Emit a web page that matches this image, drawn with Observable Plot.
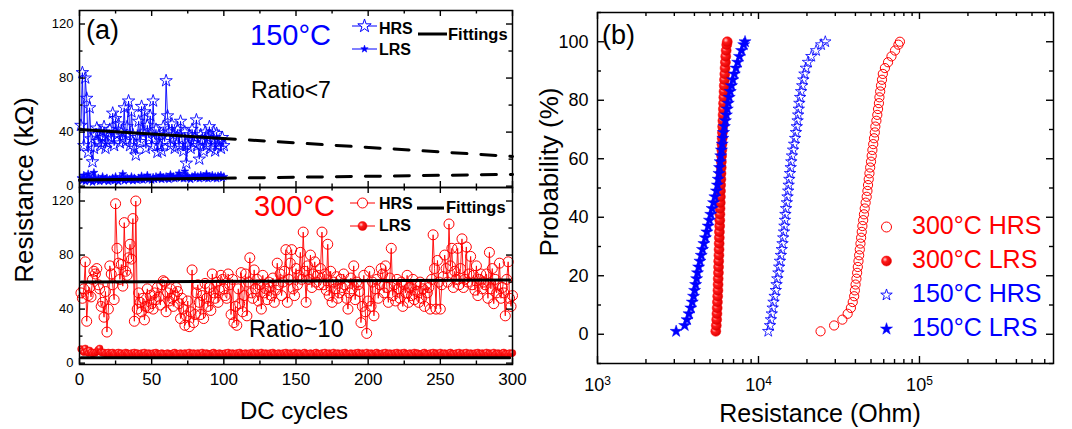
<!DOCTYPE html>
<html><head><meta charset="utf-8">
<script src="https://cdn.jsdelivr.net/npm/d3@7"></script>
<script src="https://cdn.jsdelivr.net/npm/@observablehq/plot@0.6"></script>
<style>
body{margin:0;background:#fff;}
#wrap{position:relative;width:1072px;height:429px;overflow:hidden;background:#fff;}
#wrap > svg{position:absolute;overflow:visible;}
</style></head><body><div id="wrap"></div>
<script>
// ---------------- DATA ----------------
// (a) 150 °C, cycles 1..100 (kOhm)
const hrs150 = [45,84,30,80,65,25,58,35,18,28, 38,43,33,40,30,36,44,28,32,37, 42,35,54,30,50,38,46,32,40,35,
  58,33,44,63,30,55,38,28,23,36, 48,33,59,40,55,28,45,36,52,30, 63,35,42,25,38,30,26,44,33,78,
  52,40,30,46,38,28,36,42,30,48, 35,26,40,17,30,38,28,42,32,36, 49,30,20,38,34,26,40,30,36,44,
  28,35,40,26,39,30,33,28,36,30];
const lrs150 = [6,4,8,3.5,5,9,4,6,3,10, 5,4,6,3.5,5,7,4,5,6,3.5, 5,4.5,6,4,7,5,3.5,6,5,9,
  4,5.5,6,4.5,5,7,4,6,5,4.5, 6,5,7.5,4.5,6,5.5,8,5,6,4.5, 6.5,5,7,5.5,6,8,5,6.5,5.5,7,
  6,5,8.5,6,7,5.5,6.5,7,9.5,6, 7,5.5,11,6,7.5,6,5,7,6.5,8, 6,7,5.5,8,6.5,7,6,9,5.5,7,
  6.5,8,6,7,5.5,7.5,6.5,8,6,7];
// fittings 150 °C : solid over measured range, dashed extrapolation
const fitCycles150 = [0, 108, 300];
const fitHrs150 = [42, 34.8, 22];
const fitLrs150 = [4.5, 6.0, 8.7];

// (a) 300 °C, cycles 1..300 (kOhm)
const hrs300 = [52,48,55,75,31,50,56,49,62,68,66,70,58,55,42,45,34,53,23,40,
  72,66,58,47,118,85,74,62,73,57,104,68,65,78,88,77,107,31,120,40,
  52,45,38,48,32,42,55,41,50,44,40,52,47,56,49,43,58,61,60,38,
  52,46,55,48,42,50,56,53,44,33,48,40,28,35,46,27,38,69,30,36,
  52,58,45,36,50,33,59,48,42,56,39,66,52,48,60,45,54,65,62,55,
  50,48,66,58,36,62,30,42,28,55,44,67,38,50,66,35,60,78,52,48,
  69,55,62,46,58,40,65,52,55,47,60,56,50,63,45,54,74,58,66,50,
  60,68,84,45,62,74,84,55,50,70,58,65,82,62,97,68,45,72,62,80,
  56,66,75,60,65,58,70,97,58,66,54,88,50,68,45,60,55,64,48,52,
  62,56,66,58,48,40,52,63,55,72,47,60,58,53,30,42,65,38,22,46,
  68,42,60,35,55,62,48,58,70,66,52,72,56,45,63,85,50,58,46,62,
  55,48,60,42,58,52,65,45,56,50,62,47,58,53,45,60,48,55,42,58,
  52,56,40,62,95,70,40,76,60,40,58,64,80,70,60,103,72,85,56,68,
  62,85,58,70,92,56,62,86,60,66,79,58,65,54,72,50,62,66,55,60,
  58,66,48,82,55,70,44,62,52,58,74,48,56,52,35,62,75,48,42,50];
const lrs300 = [10.5,9,8,11,8.5,7.5,9.5,8,7,8,7.5,8.5,10,11,8,7.5,8,7,7.5,8,
  7,7.5,8,7,6.5,7.5,8,7,7.5,6.5,7,8,7.5,7,6.5,7.5,7,8,7,7.5,
  6.5,7,7.5,7,8,6.5,7,7.5,7,6.5,7.5,7,8,7,6.5,7,7.5,7,6.5,7,
  7.5,7,6.5,7,7.5,8,7,6.5,7,7.5,7,6.5,7.5,7,7,8,6.5,7,7.5,7,
  6.5,7.5,7,7,8,6.5,7,7.5,7,6.5,7,7.5,8,7,6.5,7,7.5,7,7,6.5,
  7.5,7,8,6.5,7,7.5,7,6.5,7.5,7,8,7,6.5,7,7.5,7,6.5,7.5,7,8,
  7,6.5,7.5,7,7,8,6.5,7,7.5,7,6.5,7.5,7,8,7,6.5,7,7.5,7,6.5,
  7.5,7,8,7,6.5,7.5,7,7,8,6.5,7,7.5,7,6.5,7.5,8,7,6.5,7,7.5,
  7,6.5,7.5,8,7,7,6.5,7.5,7,8,6.5,7,7.5,7,7,8,6.5,7,7.5,7,
  6.5,7.5,7,8,7,6.5,7,7.5,7,6.5,7.5,7,8,7,6.5,7.5,7,7,8,6.5,
  7,7.5,7,6.5,7.5,8,7,6.5,7,7.5,7,8,6.5,7,7.5,7,6.5,7.5,7,8,
  7,6.5,7.5,7,8,7,6.5,7,7.5,7,6.5,8,7,7.5,7,6.5,7,7.5,8,7,
  6.5,7,7.5,7,8,6.5,7.5,7,7,8,6.5,7,7.5,7,6.5,7.5,8,7,7,6.5,
  7.5,7,8,6.5,7,7.5,7,8,6.5,7,7.5,7,6.5,7.5,7,8,7,6.5,7.5,7,
  7,8,6.5,7.5,7,7,8,6.5,7,7.5,7,6.5,7.5,8,7,7,6.5,7.5,7,7.5];
const fitCycles300 = [1, 298];
const fitHrs300 = [60, 61.5];
const fitLrs300 = [4, 4];

// (b) cumulative probability (%) and resistance (Ohm)
const probLevels = [1,3,5,7,9,11,13,15,17,19,21,23,25,27,29,31,33,35,37,39,41,43,45,47,49,
  51,53,55,57,59,61,63,65,67,69,71,73,75,77,79,81,83,85,87,89,91,93,95,97,99,100];
const rHrs300 = [24300,29500,33200,35800,37500,38500,39300,39700,40100,40600,41000,41400,41800,42200,42600,
  43000,43400,43800,44200,44700,45200,45700,46300,47000,47500,47900,48400,48900,49400,50000,50500,51000,
  51600,52200,52800,53200,54000,54700,55300,56000,56400,57000,57700,58500,59200,61000,63800,67000,70500,74000,75600];
const rLrs300 = [5430,5470,5500,5520,5540,5560,5580,5600,5610,5620,5640,5650,5660,5680,5690,5700,5710,5720,
  5740,5750,5760,5770,5790,5800,5810,5820,5840,5850,5870,5880,5900,5920,5930,5950,5970,5990,6010,6030,6050,
  6070,6090,6110,6130,6150,6180,6200,6230,6260,6300,6350,6400];
const rHrs150 = [11500,11800,11950,12100,12250,12400,12600,12800,12950,13100,13300,13450,13600,13780,13950,
  14100,14250,14400,14500,14600,14700,14850,15000,15150,15300,15400,15550,15700,15850,16000,16150,16400,
  16650,16900,17100,17300,17500,17650,17800,17950,18150,18400,18700,19000,19300,19700,20300,21300,22800,24500,26000];
const rLrs150 = [3080,3480,3600,3700,3800,3880,3950,4010,4070,4130,4180,4250,4330,4410,4490,4580,4680,4780,
  4870,4960,5050,5150,5260,5360,5480,5560,5620,5680,5730,5780,5830,5890,5950,6010,6070,6140,6230,6320,6400,
  6490,6580,6680,6800,6930,7080,7250,7430,7620,7850,8100,8250];

// ticks
const xMajorA = [0,50,100,150,200,250,300];
const xMinorA = [25,75,125,175,225,275];
const yMajorA = [0,40,80,120];
const yMinorA = [20,60,100];
const xMajorB = [1000,10000,100000];
const xMinorB = [2000,3000,4000,5000,6000,7000,8000,9000,20000,30000,40000,50000,60000,70000,80000,90000,
  200000,300000,400000,500000,600000];
const yMajorB = [0,20,40,60,80,100];
const yMinorB = [-10,10,30,50,70,90,110];

// ---------------- STYLE ----------------
const FONT = "Liberation Sans, Arial, Helvetica, sans-serif";
const BLUE = "#0000ff", RED = "#ff0000";
const wrap = document.getElementById("wrap");
const baseStyle = {background: "transparent", overflow: "visible", fontFamily: FONT, color: "#000"};

function frameTicks(xMaj, xMin, yMaj, yMin, iw, ih, maj = 6, mn = 3.5) {
  const o = {stroke: "#000", strokeWidth: 1.4};
  return [
    Plot.tickX(xMaj, {x: d => d, insetTop: ih - maj, ...o}),
    Plot.tickX(xMaj, {x: d => d, insetBottom: ih - maj, ...o}),
    Plot.tickX(xMin, {x: d => d, insetTop: ih - mn, ...o}),
    Plot.tickX(xMin, {x: d => d, insetBottom: ih - mn, ...o}),
    Plot.tickY(yMaj, {y: d => d, insetRight: iw - maj, ...o}),
    Plot.tickY(yMaj, {y: d => d, insetLeft: iw - maj, ...o}),
    Plot.tickY(yMin, {y: d => d, insetRight: iw - mn, ...o}),
    Plot.tickY(yMin, {y: d => d, insetLeft: iw - mn, ...o})
  ];
}
function place(svg, left, top) {
  svg.style.position = "absolute";
  svg.style.left = left + "px";
  svg.style.top = top + "px";
  wrap.appendChild(svg);
  return svg;
}

// ---------------- PANEL (a) ----------------
const aLeft = 79, aRight = 512, aW = 540;
const iwA = aRight - aLeft, ihA = 177;
const cyc = (d, i) => i + 1;

const plotATop = Plot.plot({
  width: aW, height: 190,
  marginLeft: aLeft, marginRight: aW - aRight, marginTop: 10, marginBottom: 3,
  x: {domain: [0, 300], axis: null},
  y: {domain: [-1, 130]},
  style: baseStyle,
  marks: [
    Plot.line(hrs150, {x: cyc, y: d => d, stroke: BLUE, strokeWidth: 0.9}),
    Plot.dot(hrs150, {x: cyc, y: d => d, symbol: "star", r: 3.9, stroke: BLUE, strokeWidth: 0.9, fill: "none"}),
    Plot.line(lrs150, {x: cyc, y: d => d, stroke: BLUE, strokeWidth: 1}),
    Plot.dot(lrs150, {x: cyc, y: d => d, symbol: "star", r: 2.5, fill: BLUE, stroke: BLUE, strokeWidth: 0.6}),
    Plot.line(fitCycles150.slice(0, 2), {x: d => d, y: (d, i) => fitHrs150[i], stroke: "#000", strokeWidth: 3}),
    Plot.line(fitCycles150.slice(1), {x: d => d, y: (d, i) => fitHrs150[i + 1], stroke: "#000", strokeWidth: 3, strokeDasharray: "15,14", strokeDashoffset: 15}),
    Plot.line(fitCycles150.slice(0, 2), {x: d => d, y: (d, i) => fitLrs150[i], stroke: "#000", strokeWidth: 3}),
    Plot.line(fitCycles150.slice(1), {x: d => d, y: (d, i) => fitLrs150[i + 1], stroke: "#000", strokeWidth: 3, strokeDasharray: "15,14", strokeDashoffset: 15}),
    ...frameTicks(xMajorA, xMinorA, yMajorA, yMinorA, iwA, ihA),
    Plot.frame({stroke: "#000", strokeWidth: 1.5}),
    Plot.axisY(yMajorA, {tickSize: 0, tickPadding: 6, fontSize: 13, label: null})
  ]
});
place(plotATop, 0, 0);

const plotABot = Plot.plot({
  width: aW, height: 249,
  marginLeft: aLeft, marginRight: aW - aRight, marginTop: 7, marginBottom: 65,
  x: {domain: [0, 300]},
  y: {domain: [-1, 130]},
  style: baseStyle,
  marks: [
    Plot.line(hrs300, {x: cyc, y: d => d, stroke: RED, strokeWidth: 0.9}),
    Plot.dot(hrs300, {x: cyc, y: d => d, r: 5, stroke: RED, strokeWidth: 1, fill: "none"}),
    Plot.line(lrs300, {x: cyc, y: d => d, stroke: RED, strokeWidth: 0.9}),
    Plot.dot(lrs300, {x: cyc, y: d => d, r: 3.4, fill: "url(#ballGrad)", stroke: RED, strokeWidth: 0.4}),
    Plot.line(fitCycles300, {x: d => d, y: (d, i) => fitHrs300[i], stroke: "#000", strokeWidth: 3}),
    Plot.line(fitCycles300, {x: d => d, y: (d, i) => fitLrs300[i], stroke: "#000", strokeWidth: 3}),
    ...frameTicks(xMajorA, xMinorA, yMajorA, yMinorA, iwA, ihA),
    Plot.frame({stroke: "#000", strokeWidth: 1.5}),
    Plot.axisY(yMajorA, {tickSize: 0, tickPadding: 6, fontSize: 13, label: null}),
    Plot.axisX(xMajorA, {tickSize: 0, tickPadding: 8, fontSize: 17, label: null})
  ]
});
place(plotABot, 0, 180);

// ---------------- PANEL (b) ----------------
const bW = 532, bLeft = 57, bRight = 19;
const iwB = bW - bLeft - bRight, ihB = 351;
const expOf = {1000: "3", 10000: "4", 100000: "5"};
const plotB = Plot.plot({
  width: bW, height: 429,
  marginLeft: bLeft, marginRight: bRight, marginTop: 12, marginBottom: 66,
  x: {type: "log", domain: [1000, 680000]},
  y: {domain: [-10, 110]},
  style: baseStyle,
  marks: [
    Plot.dot(probLevels, {x: (d, i) => rHrs300[i], y: d => d, r: 4.6, stroke: RED, strokeWidth: 1, fill: "none"}),
    Plot.dot(probLevels, {x: (d, i) => rLrs300[i], y: d => d, r: 5, fill: "url(#ballGrad)", stroke: RED, strokeWidth: 0.5}),
    Plot.dot(probLevels, {x: (d, i) => rHrs150[i], y: d => d, symbol: "star", r: 3.6, stroke: BLUE, strokeWidth: 0.8, fill: "none"}),
    Plot.dot(probLevels, {x: (d, i) => rLrs150[i], y: d => d, symbol: "star", r: 3.8, fill: BLUE, stroke: BLUE, strokeWidth: 0.5}),
    ...frameTicks(xMajorB, xMinorB, yMajorB, yMinorB, iwB, ihB, 7, 4),
    Plot.frame({stroke: "#000", strokeWidth: 1.5}),
    Plot.axisY(yMajorB, {tickSize: 0, tickPadding: 9, fontSize: 18, label: null}),
    Plot.axisX(xMajorB, {tickSize: 0, tickPadding: 15, fontSize: 18, label: null, tickFormat: d => "10|" + expOf[d]})
  ]
});
place(plotB, 540, 0);
// superscript exponents on the decade labels
d3.select(plotB).selectAll('g[aria-label="x-axis tick label"] text').each(function () {
  const t = d3.select(this);
  const parts = t.text().split("|");
  t.text(parts[0]);
  t.append("tspan").attr("dy", "-0.5em").attr("font-size", "12px").text(parts[1]);
});

// ---------------- ANNOTATIONS ----------------
const ov = d3.create("svg").attr("width", 1072).attr("height", 429)
  .attr("font-family", FONT).style("left", "0px").style("top", "0px").style("pointer-events", "none");
const grad = ov.append("defs").append("radialGradient").attr("id", "ballGrad")
  .attr("cx", "35%").attr("cy", "35%").attr("r", "70%");
grad.append("stop").attr("offset", "0%").attr("stop-color", "#ffd0d0");
grad.append("stop").attr("offset", "35%").attr("stop-color", "#ff1a1a");
grad.append("stop").attr("offset", "100%").attr("stop-color", "#d80000");

function txt(s, x, y, o = {}) {
  const t = ov.append("text").attr("x", x).attr("y", y)
    .attr("font-size", o.size || 16).attr("fill", o.fill || "#000")
    .attr("font-weight", o.weight || "normal").attr("text-anchor", o.anchor || "start").text(s);
  if (o.rotate) t.attr("transform", `rotate(${o.rotate},${x},${y})`);
  return t;
}
function seg(x1, x2, y, color, w) {
  ov.append("line").attr("x1", x1).attr("x2", x2).attr("y1", y).attr("y2", y)
    .attr("stroke", color).attr("stroke-width", w);
}
function sym(type, x, y, r, fill, stroke, sw) {
  ov.append("path").attr("transform", `translate(${x},${y})`)
    .attr("d", d3.symbol(type, Math.PI * r * r)())
    .attr("fill", fill).attr("stroke", stroke).attr("stroke-width", sw);
}

// axis titles
txt("Resistance (kΩ)", 33, 190, {size: 26, anchor: "middle", rotate: -90});
txt("DC cycles", 294, 419, {size: 24, anchor: "middle"});
txt("Probability (%)", 558, 172, {size: 26, anchor: "middle", rotate: -90});
txt("Resistance (Ohm)", 820, 421.5, {size: 25, anchor: "middle"});

// panel (a) top
txt("(a)", 86, 39, {size: 27});
txt("150°C", 250, 45, {size: 29, fill: BLUE});
txt("Ratio<7", 251, 98, {size: 23});
seg(352, 377, 26, BLUE, 1); sym(d3.symbolStar, 364.5, 26, 4.2, "#fff", BLUE, 1);
txt("HRS", 379, 33.5, {size: 16, weight: "bold"});
seg(352, 377, 49, BLUE, 1); sym(d3.symbolStar, 364.5, 49, 2.3, BLUE, BLUE, 0.6);
txt("LRS", 379, 55, {size: 16, weight: "bold"});
seg(418, 447, 34, "#000", 3);
txt("Fittings", 448, 40, {size: 16.5, weight: "bold"});

// panel (a) bottom
txt("300°C", 254, 216, {size: 29, fill: RED});
txt("Ratio~10", 249, 336.5, {size: 23.5});
seg(350, 375, 203, RED, 1); sym(d3.symbolCircle, 362.5, 203, 5, "#fff", RED, 1);
txt("HRS", 379, 208.5, {size: 16, weight: "bold"});
seg(350, 375, 226, RED, 1); sym(d3.symbolCircle, 362.5, 226, 4.5, "url(#ballGrad)", RED, 0.5);
txt("LRS", 379, 230.5, {size: 16, weight: "bold"});
seg(417, 444, 208, "#000", 3);
txt("Fittings", 446, 213, {size: 16.5, weight: "bold"});

// panel (b)
txt("(b)", 602, 44, {size: 27});
const legB = [
  ["300°C HRS", RED, d3.symbolCircle, 5, "none", 1],
  ["300°C LRS", RED, d3.symbolCircle, 5, "url(#ballGrad)", 0.5],
  ["150°C HRS", BLUE, d3.symbolStar, 3.6, "none", 0.9],
  ["150°C LRS", BLUE, d3.symbolStar, 3.8, BLUE, 0.5]
];
legB.forEach(([label, c, type, r, fill, sw], i) => {
  const yc = 225 + i * 34;
  sym(type, 886.5, yc + 2, r, fill, c, sw);
  txt(label, 912, yc + 9, {size: 25, fill: c});
});

wrap.appendChild(ov.node());
</script></body></html>
